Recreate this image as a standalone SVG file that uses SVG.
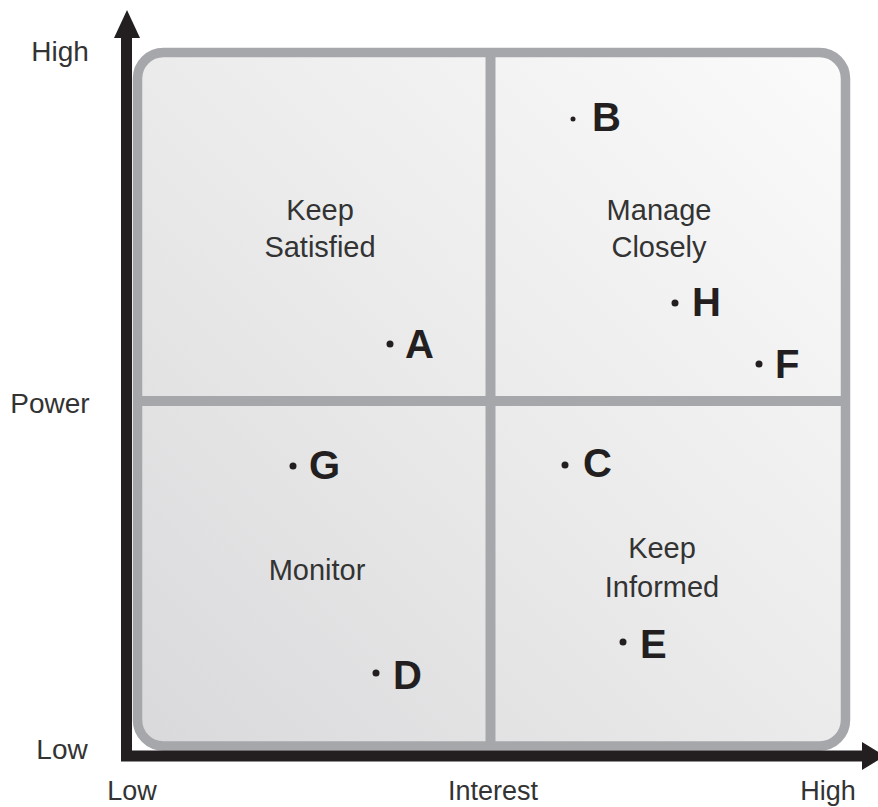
<svg xmlns="http://www.w3.org/2000/svg" width="878" height="807" viewBox="0 0 878 807">
  <defs>
    <linearGradient id="bg" x1="1" y1="0" x2="0" y2="1">
      <stop offset="0" stop-color="#fbfbfb"/>
      <stop offset="0.5" stop-color="#ebebec"/>
      <stop offset="1" stop-color="#d9d9db"/>
    </linearGradient>
    <style>
      .frame { fill: url(#bg); stroke: #a6a7aa; stroke-width: 9.5; }
      .div { stroke: #a6a7aa; stroke-width: 10; fill: none; }
      .axis { stroke: #231f20; stroke-width: 11; fill: none; }
      .head { fill: #231f20; }
      .lbl { font-family: "Liberation Sans", Arial, sans-serif; font-size: 28px; fill: #333333; text-anchor: middle; }
      .q { font-family: "Liberation Sans", Arial, sans-serif; font-size: 29px; fill: #333333; text-anchor: middle; }
      .pt { font-family: "Liberation Sans", Arial, sans-serif; font-size: 40px; font-weight: bold; fill: #231f20; }
      .dot { fill: #231f20; }
    </style>
  </defs>
  <rect width="878" height="807" fill="#ffffff"/>

  <g id="grid">
    <rect class="frame" x="137.5" y="52.5" width="708" height="693.5" rx="26" ry="26"/>
    <line class="div" x1="490.5" y1="52" x2="490.5" y2="746"/>
    <line class="div" x1="137" y1="401" x2="846" y2="401"/>
  </g>

  <g id="connectors">
    <path class="axis" d="M126.5 36 V756 H866"/>
    <polygon class="head" points="127,10 140,38 114,38"/>
    <polygon class="head" points="885,756 862,742 862,770"/>
  </g>

  <g id="axis-labels">
    <text class="lbl" x="60" y="61">High</text>
    <text class="lbl" x="50" y="413">Power</text>
    <text class="lbl" x="62" y="759">Low</text>
    <text class="lbl" x="132" y="800" style="font-size:27px">Low</text>
    <text class="lbl" x="493" y="800" style="font-size:27px">Interest</text>
    <text class="lbl" x="828" y="800" style="font-size:27px">High</text>
  </g>

  <g id="keep-satisfied"><text class="q" x="320" y="220">Keep</text><text class="q" x="320" y="257">Satisfied</text></g>
  <g id="manage-closely"><text class="q" x="659" y="220">Manage</text><text class="q" x="659" y="257">Closely</text></g>
  <g id="monitor"><text class="q" x="317" y="580">Monitor</text></g>
  <g id="keep-informed"><text class="q" x="662" y="558">Keep</text><text class="q" x="662" y="597">Informed</text></g>

  <g id="A"><circle class="dot" cx="390" cy="344" r="3.5"/><text class="pt" x="405" y="358">A</text></g>
  <g id="B"><circle class="dot" cx="573" cy="119" r="2.5"/><text class="pt" x="592" y="131">B</text></g>
  <g id="C"><circle class="dot" cx="565" cy="465" r="3.5"/><text class="pt" x="583" y="477">C</text></g>
  <g id="D"><circle class="dot" cx="376" cy="673" r="3.5"/><text class="pt" x="393" y="689">D</text></g>
  <g id="E"><circle class="dot" cx="623" cy="642" r="3.5"/><text class="pt" x="640" y="658">E</text></g>
  <g id="F"><circle class="dot" cx="759" cy="364" r="3.5"/><text class="pt" x="775" y="378">F</text></g>
  <g id="G"><circle class="dot" cx="293" cy="466" r="3.5"/><text class="pt" x="309" y="479">G</text></g>
  <g id="H"><circle class="dot" cx="675" cy="303" r="3.5"/><text class="pt" x="692" y="316">H</text></g>
</svg>
